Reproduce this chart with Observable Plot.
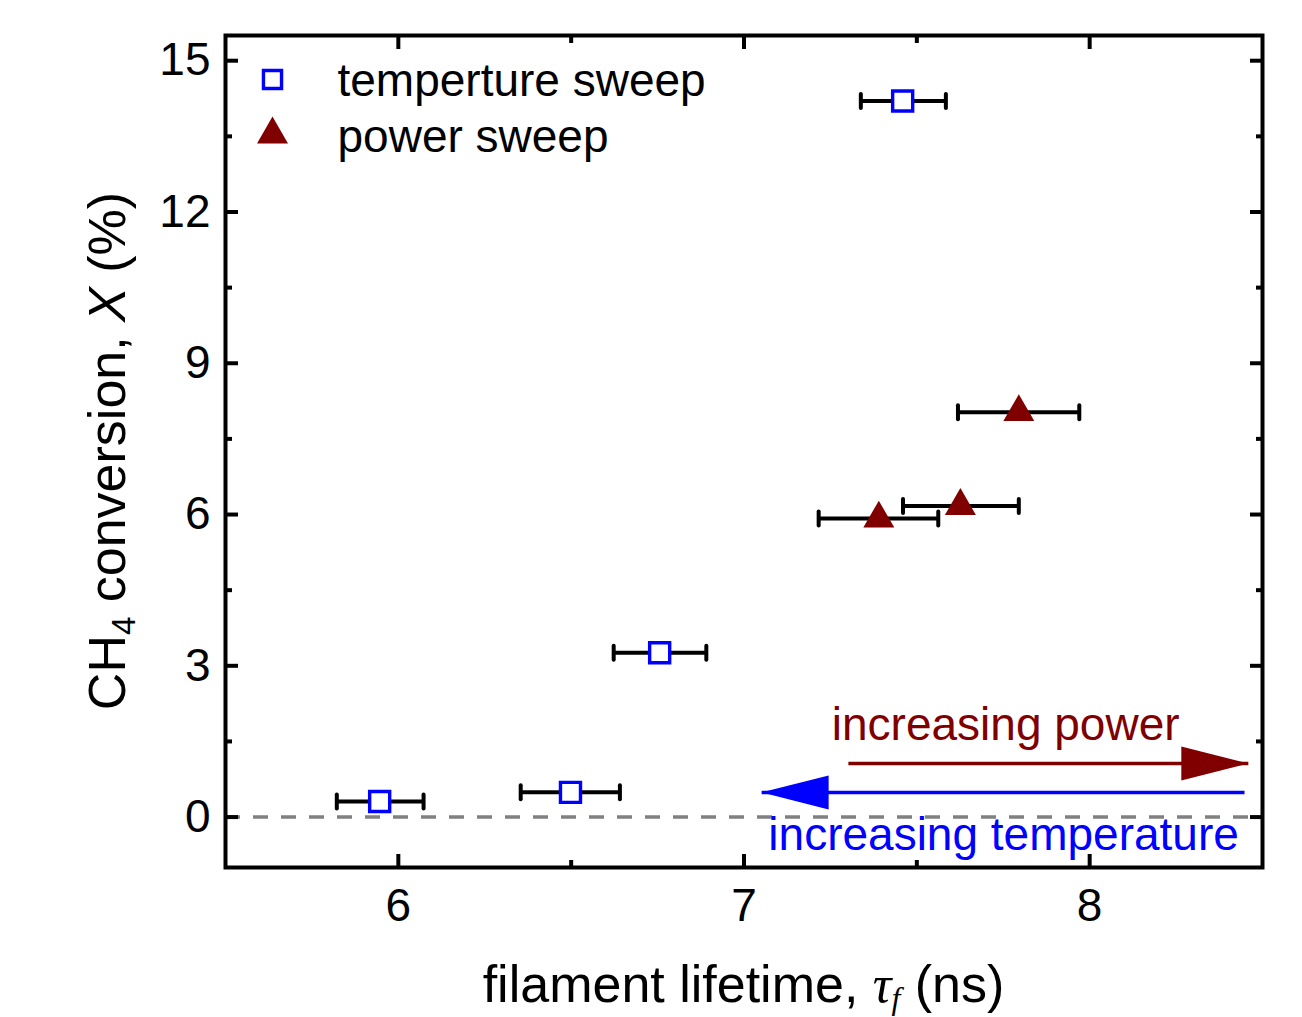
<!DOCTYPE html>
<html><head><meta charset="utf-8">
<script src="https://cdn.jsdelivr.net/npm/d3@7"></script>
<script src="https://cdn.jsdelivr.net/npm/@observablehq/plot@0.6"></script>
<style>body{margin:0;background:#fff} #chart{width:1302px;height:1017px}</style>
</head><body><div id="chart"></div>
<script>
// ---- data ----
const tempX   = [5.946, 6.498, 6.756, 7.459];
const tempY   = [0.31, 0.49, 3.26, 14.2];
const tempXLo = [5.822, 6.354, 6.623, 7.338];
const tempXHi = [6.073, 6.641, 6.891, 7.584];
const powerX   = [7.39, 7.626, 7.795];
const powerY   = [5.92, 6.17, 8.03];
const powerXLo = [7.216, 7.46, 7.619];
const powerXHi = [7.562, 7.795, 7.97];
const seriesNames = ["temperture sweep", "power sweep"];
const xTicks = [6, 7, 8];
const xMinorTicks = [6.5, 7.5];
const yTicks = [0, 3, 6, 9, 12, 15];
const yMinorTicks = [1.5, 4.5, 7.5, 10.5, 13.5];
const arrowLabels = ["increasing power", "increasing temperature"];
const arrowTail = [7.302, 8.448];
const arrowTip  = [8.459, 7.051];
const arrowY    = [1.063, 0.488];
const arrowLabelX = [7.757, 7.751];
const arrowLabelY = [1.82, -0.355];

// ---- tables ----
const temp = tempX.map((x, i) => ({x, y: tempY[i], lo: tempXLo[i], hi: tempXHi[i]}));
const power = powerX.map((x, i) => ({x, y: powerY[i], lo: powerXLo[i], hi: powerXHi[i]}));
const errs = temp.concat(power);
const arrows = arrowLabels.map((label, i) => ({
  label, tail: arrowTail[i], tip: arrowTip[i], y: arrowY[i], lx: arrowLabelX[i], ly: arrowLabelY[i],
  rot: arrowTip[i] > arrowTail[i] ? 0 : 180
}));

const BLUE = "#0000ff", RED = "#800000", GRAY = "#808080";
const FONT = "'Liberation Sans', Arial, Helvetica, sans-serif";
const capSym = {draw(ctx, size) { const r = Math.sqrt(size / Math.PI); ctx.moveTo(0, -r); ctx.lineTo(0, r); }};
const headSym = {draw(ctx) { ctx.moveTo(0, 0); ctx.lineTo(-67, -17); ctx.lineTo(-67, 17); ctx.closePath(); }};

const W = 1302, H = 1017, ML = 225, MR = 40, MT = 35, MB = 150;

const plot = Plot.plot({
  width: W, height: H,
  marginLeft: ML, marginRight: MR, marginTop: MT, marginBottom: MB,
  style: {fontFamily: FONT, fontSize: "46px", color: "black", background: "white", overflow: "visible"},
  x: {domain: [5.5, 8.5]},
  y: {domain: [-1, 15.5]},
  marks: [
    Plot.ruleY([0], {stroke: GRAY, strokeWidth: 3.5, strokeDasharray: "15,13"}),
    // arrows
    Plot.link(arrows, {x1: "tail", x2: "tip", y1: "y", y2: "y",
      stroke: d => d.rot === 0 ? RED : BLUE, strokeWidth: 3.5}),
    Plot.dot(arrows, {x: "tip", y: "y", symbol: headSym, rotate: "rot", r: 10,
      fill: d => d.rot === 0 ? RED : BLUE, stroke: "none"}),
    Plot.text(arrows, {x: "lx", y: "ly", text: "label", fill: d => d.rot === 0 ? RED : BLUE,
      fontSize: 46, textAnchor: "middle", lineAnchor: "middle"}),
    // error bars
    Plot.link(errs, {x1: "lo", x2: "hi", y1: "y", y2: "y", stroke: "black", strokeWidth: 4}),
    Plot.dot(errs, {x: "lo", y: "y", symbol: capSym, r: 7, stroke: "black", strokeWidth: 4, strokeLinecap: "round"}),
    Plot.dot(errs, {x: "hi", y: "y", symbol: capSym, r: 7, stroke: "black", strokeWidth: 4, strokeLinecap: "round"}),
    // points
    Plot.dot(temp, {x: "x", y: "y", symbol: "square", r: 11.3, stroke: BLUE, fill: "white", strokeWidth: 3.4}),
    Plot.dot(power, {x: "x", y: "y", symbol: "triangle", r: 11.5, fill: RED, stroke: "none"}),
    // legend
    Plot.dot([seriesNames[0]], {frameAnchor: "top-left", dx: 47, dy: 44, symbol: "square", r: 10.2, stroke: BLUE, fill: "white", strokeWidth: 3.4}),
    Plot.dot([seriesNames[1]], {frameAnchor: "top-left", dx: 47, dy: 99, symbol: "triangle", r: 11.5, fill: RED, stroke: "none"}),
    Plot.text([seriesNames[0]], {frameAnchor: "top-left", dx: 112, dy: 46, text: d => d, textAnchor: "start", lineAnchor: "middle", fontSize: 46, fill: "black"}),
    Plot.text([seriesNames[1]], {frameAnchor: "top-left", dx: 112, dy: 102, text: d => d, textAnchor: "start", lineAnchor: "middle", fontSize: 46, fill: "black"}),
    // axes (inward ticks)
    Plot.axisX(xTicks, {anchor: "bottom", tickSize: -13, tickPadding: 34, strokeWidth: 4, fontSize: 46, tickFormat: d => String(d), label: null}),
    Plot.axisX(xMinorTicks, {anchor: "bottom", tickSize: -7, strokeWidth: 4, tickFormat: () => "", label: null}),
    Plot.axisX(xTicks, {anchor: "top", tickSize: -13, strokeWidth: 4, tickFormat: () => "", label: null}),
    Plot.axisX(xMinorTicks, {anchor: "top", tickSize: -7, strokeWidth: 4, tickFormat: () => "", label: null}),
    Plot.axisY(yTicks, {anchor: "left", tickSize: -13, tickPadding: 28, strokeWidth: 4, fontSize: 46, tickFormat: d => String(d), label: null}),
    Plot.axisY(yMinorTicks, {anchor: "left", tickSize: -7, strokeWidth: 4, tickFormat: () => "", label: null}),
    Plot.axisY(yTicks, {anchor: "right", tickSize: -13, strokeWidth: 4, tickFormat: () => "", label: null}),
    Plot.axisY(yMinorTicks, {anchor: "right", tickSize: -7, strokeWidth: 4, tickFormat: () => "", label: null}),
    Plot.frame({stroke: "black", strokeWidth: 4})
  ]
});

document.getElementById("chart").appendChild(plot);

// axis titles with sub/italic parts
const svg = d3.select(plot);
const cx = ML + (W - ML - MR) / 2, cy = MT + (H - MT - MB) / 2;
const xt = svg.append("text")
  .attr("x", cx).attr("y", 1002)
  .attr("text-anchor", "middle")
  .attr("font-family", FONT).attr("font-size", 52).attr("fill", "black");
xt.append("tspan").text("filament lifetime, ");
xt.append("tspan").attr("font-family", "'Liberation Serif', 'DejaVu Serif', serif").attr("font-style", "italic").text("τ");
xt.append("tspan").attr("font-family", "'Liberation Serif', 'DejaVu Serif', serif").attr("font-style", "italic").attr("font-size", 32).attr("dy", 7).text("f");
xt.append("tspan").attr("dy", -7).text(" (ns)");

const yt = svg.append("text")
  .attr("transform", `translate(125,${cy}) rotate(-90)`)
  .attr("text-anchor", "middle")
  .attr("font-family", FONT).attr("font-size", 52).attr("fill", "black");
yt.append("tspan").text("CH");
yt.append("tspan").attr("font-size", 33).attr("dy", 10).text("4");
yt.append("tspan").attr("dy", -10).text(" conversion, ");
yt.append("tspan").attr("font-style", "italic").text("X");
yt.append("tspan").text(" (%)");
</script>
</body></html>
